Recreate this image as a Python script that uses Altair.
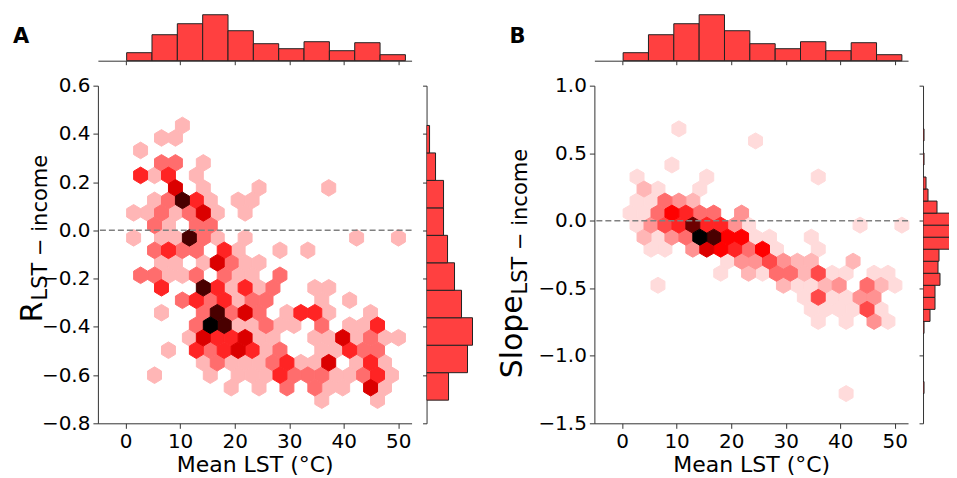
import altair as alt
import numpy as np
import pandas as pd

FONT = "DejaVu Sans"

# ---------------- data ----------------
lst_ticks = [0, 10, 20, 30, 40, 50]
lst_range = [0.2, 51.3]                      # range of Mean LST values
lst_hist_counts = [8, 26, 37, 46, 30, 17, 12, 19, 10, 18, 6]

r_ticks = [-0.8, -0.6, -0.4, -0.2, 0.0, 0.2, 0.4, 0.6]
r_range = [-0.704, 0.435]                    # range of R values
r_hist_counts = [22, 41, 46, 35, 28, 21, 17, 17, 9, 3]

slope_ticks = [-1.5, -1.0, -0.5, 0.0, 0.5, 1.0]
slope_range = [-1.28, 0.68]                  # range of slope values
slope_hist_counts = [1, 0, 0, 0, 0, 1, 7, 12, 12, 17, 15, 16,
                     44, 46, 31, 14, 5, 3, 0, 1, 0, 1]

hex_gridsize = 20

# hexbin cells: hex row (0 = bottom) -> [(hex column, count), ...]
r_hex = {
    22: [(4, 1)],
    21: [(2, 1), (3, 1)],
    20: [(1, 1)],
    19: [(2, 2), (3, 2), (5, 1)],
    18: [(1, 3), (2, 1), (3, 3), (5, 1)],
    17: [(3, 4), (5, 1), (9, 1), (14, 1)],
    16: [(2, 1), (3, 2), (4, 6), (5, 3), (6, 1), (8, 1), (9, 1)],
    15: [(0, 1), (1, 1), (2, 2), (3, 1), (4, 2), (5, 4), (6, 1), (8, 1)],
    14: [(2, 2), (3, 1), (5, 2), (6, 2)],
    13: [(0, 1), (2, 1), (3, 1), (4, 6), (5, 2), (6, 1), (8, 1), (16, 1), (19, 1)],
    12: [(2, 2), (3, 3), (4, 2), (5, 2), (7, 3), (8, 1), (11, 1), (13, 1)],
    11: [(2, 1), (3, 1), (5, 1), (6, 4), (7, 2), (8, 1), (9, 1)],
    10: [(1, 2), (2, 2), (3, 1), (4, 1), (5, 2), (7, 2), (8, 1), (9, 1), (11, 2)],
    9: [(2, 3), (5, 6), (6, 3), (7, 1), (8, 3), (9, 1), (10, 2), (13, 1), (14, 1)],
    8: [(4, 2), (5, 3), (6, 2), (7, 3), (8, 1), (9, 2), (10, 2), (14, 1), (16, 1)],
    7: [(2, 1), (5, 2), (6, 6), (7, 2), (8, 4), (9, 2), (11, 1), (12, 3), (13, 3),
        (14, 1), (17, 1)],
    6: [(5, 2), (6, 7), (7, 6), (8, 1), (9, 1), (10, 2), (11, 1), (12, 1), (14, 2),
        (16, 1), (17, 1), (18, 3)],
    5: [(4, 1), (5, 4), (6, 3), (7, 3), (8, 4), (9, 1), (10, 1), (13, 1), (14, 1),
        (15, 4), (16, 1), (17, 2), (18, 1), (19, 1)],
    4: [(3, 1), (5, 3), (6, 2), (7, 3), (8, 4), (9, 3), (10, 1), (11, 2), (14, 1),
        (15, 1), (16, 3), (17, 2), (18, 2)],
    3: [(5, 1), (6, 2), (7, 1), (8, 1), (9, 1), (10, 2), (11, 3), (12, 1), (13, 1),
        (14, 4), (16, 1), (17, 3), (18, 1)],
    2: [(2, 1), (6, 1), (8, 1), (9, 1), (10, 1), (11, 3), (12, 2), (13, 2), (14, 2),
        (15, 1), (16, 1), (17, 2), (18, 3), (19, 1)],
    1: [(7, 1), (9, 1), (11, 2), (13, 2), (14, 1), (15, 1), (17, 4), (18, 1)],
    0: [(14, 1), (18, 1)],
}
r_hex_max = 7

slope_hex = {
    22: [(4, 1)],
    21: [(9, 1)],
    19: [(3, 1)],
    18: [(1, 1), (6, 1), (14, 1)],
    17: [(1, 2), (2, 1), (5, 1)],
    16: [(1, 1), (2, 1), (3, 4), (4, 3), (5, 2)],
    15: [(0, 1), (1, 1), (2, 4), (3, 7), (4, 6), (5, 4), (6, 4), (8, 3)],
    14: [(1, 1), (2, 3), (3, 5), (4, 6), (5, 11), (6, 6), (7, 6), (8, 3), (9, 1),
         (17, 1), (20, 1)],
    13: [(1, 2), (2, 1), (3, 3), (4, 4), (5, 14), (6, 12), (7, 7), (8, 7), (9, 1),
         (10, 1), (13, 1)],
    12: [(2, 1), (3, 1), (5, 3), (6, 8), (7, 7), (8, 6), (9, 4), (10, 7), (11, 1),
         (14, 1)],
    11: [(7, 1), (8, 3), (9, 3), (10, 5), (11, 3), (12, 2), (13, 2), (16, 2)],
    10: [(7, 1), (9, 2), (10, 1), (11, 4), (12, 4), (13, 2), (14, 5), (15, 1),
         (16, 1), (18, 1), (19, 1)],
    9: [(2, 1), (11, 2), (12, 1), (13, 1), (14, 2), (15, 3), (17, 4), (18, 2), (19, 1)],
    8: [(13, 1), (14, 5), (15, 1), (16, 1), (17, 3), (18, 3)],
    7: [(13, 1), (14, 1), (15, 1), (16, 1), (17, 5), (18, 1)],
    6: [(14, 1), (16, 1), (18, 3), (19, 1)],
    0: [(16, 1)],
}
slope_hex_max = 14

# ---------------- layout / style ----------------
X_DOM = [-5.07, 52.43]
R_DOM = [-0.8, 0.6]
S_DOM = [-1.5, 1.0]
W_MAIN, H_MAIN = 314, 338
H_TOP = 52.5
W_RA, W_RB = 153, 26
HIST_FILL = "#ff4040"
EDGE = "#222222"
AX = "#333333"


def xscale():
    return alt.Scale(domain=X_DOM, nice=False, zero=False)


def hex_frame(rows, rng):
    ny = int(hex_gridsize / np.sqrt(3))
    sx = (lst_range[1] - lst_range[0]) / hex_gridsize
    sy = (rng[1] - rng[0]) / ny
    recs = []
    for k, cells in rows.items():
        for i, c in cells:
            recs.append({"x": lst_range[0] + (i + 0.5 * (k % 2)) * sx,
                         "y": rng[0] + k * sy / 2.0,
                         "count": c})
    return pd.DataFrame(recs), sx, sy


def top_hist(letter):
    edges = np.linspace(lst_range[0], lst_range[1], len(lst_hist_counts) + 1)
    df = pd.DataFrame({"lo": edges[:-1], "hi": edges[1:],
                       "n": lst_hist_counts, "base": 0})
    bars = alt.Chart(df).mark_rect(fill=HIST_FILL, stroke=EDGE, strokeWidth=1).encode(
        x=alt.X("lo:Q", scale=xscale(),
                axis=alt.Axis(values=lst_ticks, labels=False, title=None, grid=False,
                              tickSize=4, domainColor=AX, tickColor=AX)),
        x2="hi:Q",
        y=alt.Y("base:Q", scale=alt.Scale(domain=[0, H_TOP], nice=False, zero=False),
                axis=None),
        y2="n:Q",
    )
    lab = alt.Chart(pd.DataFrame({"t": [letter]})).mark_text(
        font=FONT, fontSize=21, fontWeight="bold", align="left",
        baseline="alphabetic", color="black"
    ).encode(text="t:N", x=alt.value(-85), y=alt.value(35))
    return alt.layer(bars, lab).properties(width=W_MAIN, height=H_TOP)


def spacer(w):
    return alt.Chart(pd.DataFrame({"a": [0]})).mark_point(opacity=0).encode(
        x=alt.X("a:Q", axis=None), y=alt.Y("a:Q", axis=None)
    ).properties(width=w, height=H_TOP)


def right_hist(counts, rng, ydom, yticks, width):
    edges = np.linspace(rng[0], rng[1], len(counts) + 1)
    df = pd.DataFrame({"lo": edges[:-1], "hi": edges[1:], "n": counts, "base": 0})
    df = df[df["n"] > 0]
    return alt.Chart(df).mark_rect(
        fill=HIST_FILL, stroke=EDGE, strokeWidth=1, clip=True
    ).encode(
        x=alt.X("base:Q", scale=alt.Scale(domain=[0, width], nice=False, zero=False),
                axis=None),
        x2="n:Q",
        y=alt.Y("lo:Q", scale=alt.Scale(domain=ydom, nice=False, zero=False),
                axis=alt.Axis(values=yticks, labels=False, title=None, grid=False,
                              tickSize=4, domainColor=AX, tickColor=AX)),
        y2="hi:Q",
    ).properties(width=width, height=H_MAIN)


def main_panel(rows, rng, ydom, yticks, cmax, big, sub, big_x, big_y, sub_y):
    df, sx, sy = hex_frame(rows, rng)
    half_w = sx / 2 * W_MAIN / (X_DOM[1] - X_DOM[0])
    half_h = sy / 3 * H_MAIN / (ydom[1] - ydom[0])
    a = half_w / half_h
    shape = (f"M0,-1L{a:.4f},-0.5L{a:.4f},0.5L0,1L-{a:.4f},0.5L-{a:.4f},-0.5Z")
    size = (2 * half_h) ** 2
    cscale = alt.Scale(domain=[0, cmax / 2, cmax],
                       range=["#ffffff", "#ff0000", "#000000"], interpolate="rgb")
    hexes = alt.Chart(df).mark_point(
        shape=shape, size=size, filled=True, opacity=1, strokeWidth=1, strokeOpacity=1
    ).encode(
        x=alt.X("x:Q", scale=xscale(),
                axis=alt.Axis(values=lst_ticks, format="d", title="Mean LST (°C)",
                              grid=False, tickSize=5, labelPadding=3, titlePadding=3,
                              domainColor=AX, tickColor=AX)),
        y=alt.Y("y:Q", scale=alt.Scale(domain=ydom, nice=False, zero=False),
                axis=alt.Axis(values=yticks, format=".1f", title=None, grid=False,
                              tickSize=5, labelPadding=3, domainColor=AX,
                              tickColor=AX)),
        fill=alt.Fill("count:Q", scale=cscale, legend=None),
        stroke=alt.Stroke("count:Q", scale=cscale, legend=None),
        order=alt.Order("count:Q"),
    )
    zero = alt.Chart(pd.DataFrame({"z": [0.0]})).mark_rule(
        color="#808080", strokeDash=[6, 3], strokeWidth=1.5
    ).encode(y="z:Q")
    t_big = alt.Chart(pd.DataFrame({"t": [big]})).mark_text(
        font=FONT, fontSize=30, angle=270, align="left", baseline="alphabetic",
        color="black"
    ).encode(text="t:N", x=alt.value(big_x), y=alt.value(big_y))
    t_sub = alt.Chart(pd.DataFrame({"t": [sub]})).mark_text(
        font=FONT, fontSize=21, angle=270, align="left", baseline="alphabetic",
        color="black"
    ).encode(text="t:N", x=alt.value(big_x + 5), y=alt.value(sub_y))
    return alt.layer(hexes, zero, t_big, t_sub).properties(width=W_MAIN, height=H_MAIN)


topA = top_hist("A")
topB = top_hist("B")
mainA = main_panel(r_hex, r_range, R_DOM, r_ticks, r_hex_max,
                   "R", "LST − income", -56, 237, 215)
mainB = main_panel(slope_hex, slope_range, S_DOM, slope_ticks, slope_hex_max,
                   "Slope", "LST − income", -72, 293, 209)
rightA = right_hist(r_hist_counts, r_range, R_DOM, r_ticks, W_RA)
rightB = right_hist(slope_hist_counts, slope_range, S_DOM, slope_ticks, W_RB)

chart = alt.concat(
    topA, spacer(W_RA), topB, spacer(W_RB),
    mainA, rightA, mainB, rightB,
    columns=4, spacing={"row": 24.5, "column": 15}, bounds="flush", align="each",
).resolve_scale(
    fill="independent", stroke="independent"
).properties(
    padding={"left": 5, "top": 0, "right": 0, "bottom": 0}
).configure_view(
    strokeOpacity=0
).configure_axis(
    labelFont=FONT, titleFont=FONT, labelFontSize=20, titleFontSize=22,
    labelColor="black", titleColor="black", titleFontWeight="normal",
    domainWidth=1, tickWidth=1
)

chart.save("out.html", embed_options={"renderer": "svg", "actions": False})
